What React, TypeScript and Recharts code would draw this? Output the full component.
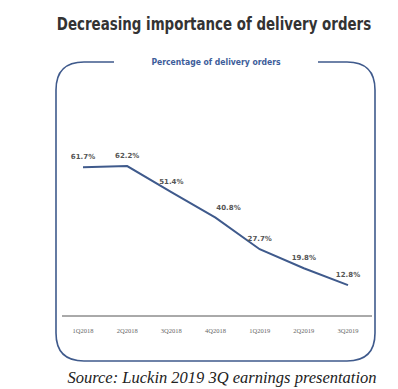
import { LineChart, Line, XAxis, YAxis, LabelList } from "recharts"

const quarters = ["1Q2018", "2Q2018", "3Q2018", "4Q2018", "1Q2019", "2Q2019", "3Q2019"]
const deliveryShare = [61.7, 62.2, 51.4, 40.8, 27.7, 19.8, 12.8]

const data = quarters.map((q, i) => ({ q, share: deliveryShare[i] }))

const BLUE = "#3f5a8c"

function PointLabel(props: any) {
  const { x, y, value, index } = props
  const dx = index === 3 ? 13 : 0
  return (
    <text
      x={x + dx}
      y={y - 8}
      textAnchor="middle"
      fontSize={7}
      fontWeight="bold"
      fontFamily="'DejaVu Sans', sans-serif"
      fill="#555"
    >
      {value.toFixed(1)}%
    </text>
  )
}

function Frame() {
  const l = 56, r = 375, t = 62, b = 361, rad = 28
  const d = `M114 ${t} L${l + rad} ${t} Q${l} ${t} ${l} ${t + rad} L${l} ${b - rad} Q${l} ${b} ${l + rad} ${b} L${r - rad} ${b} Q${r} ${b} ${r} ${b - rad} L${r} ${t + rad} Q${r} ${t} ${r - rad} ${t} L318 ${t}`
  return (
    <svg width={398} height={389} style={{ position: "absolute", left: 0, top: 0 }}>
      <g transform="translate(214 30) scale(0.745 1)">
        <text
          x={0}
          y={0}
          textAnchor="middle"
          fontSize={18}
          fontWeight="bold"
          fontFamily="'DejaVu Sans', sans-serif"
          fill="#333"
        >
          Decreasing importance of delivery orders
        </text>
      </g>
      <path d={d} fill="none" stroke={BLUE} strokeWidth={1.6} />
      <g transform="translate(216 65) scale(0.81 1)">
        <text
          x={0}
          y={0}
          textAnchor="middle"
          fontSize={9.5}
          fontWeight="bold"
          fontFamily="'DejaVu Sans', sans-serif"
          fill="#3d5d9a"
        >
          Percentage of delivery orders
        </text>
      </g>
      <text
        x={222}
        y={383}
        textAnchor="middle"
        fontSize={16.5}
        fontStyle="italic"
        fontFamily="'Liberation Serif', serif"
        fill="#222"
      >
        Source: Luckin 2019 3Q earnings presentation
      </text>
    </svg>
  )
}

export default function App() {
  return (
    <div style={{ position: "absolute", left: 0, top: 0, width: 398, height: 389, background: "#fff" }}>
      <Frame />
      <div style={{ position: "absolute", left: 0, top: 0 }}>
        <LineChart width={398} height={389} data={data} margin={{ top: 75, right: 26, bottom: 53, left: 62 }}>
          <XAxis
            dataKey="q"
            height={20}
            padding={{ left: 21, right: 24 }}
            tickLine={false}
            axisLine={{ stroke: "#555", strokeWidth: 1 }}
            tickMargin={6}
            tick={{ fontSize: 6.5, fill: "#666", fontFamily: "'Liberation Serif', serif" }}
            interval={0}
          />
          <YAxis hide domain={[0, 100]} />
          <Line
            type="linear"
            dataKey="share"
            stroke={BLUE}
            strokeWidth={2}
            dot={false}
            isAnimationActive={false}
          >
            <LabelList dataKey="share" content={PointLabel} />
          </Line>
        </LineChart>
      </div>
    </div>
  )
}
